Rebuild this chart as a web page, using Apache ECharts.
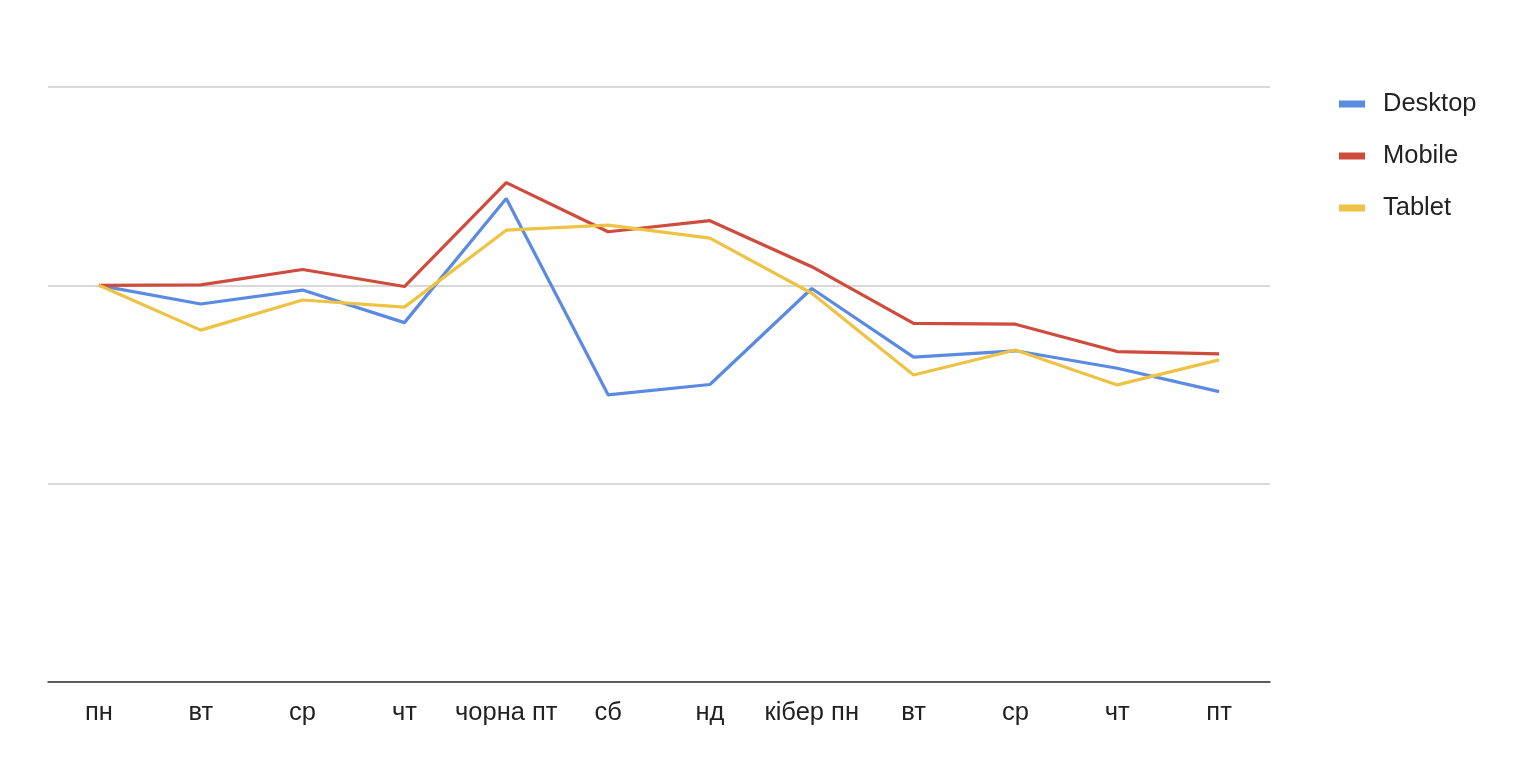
<!DOCTYPE html>
<html>
<head>
<meta charset="utf-8">
<script src="https://cdn.jsdelivr.net/npm/echarts@6/dist/echarts.min.js"></script>
<style>
html,body{margin:0;padding:0;background:#fff;}
#chart{width:1530px;height:766px;}
</style>
</head>
<body>
<div id="chart"></div>
<script>
const categories = ['пн','вт','ср','чт','чорна пт','сб','нд','кібер пн','вт','ср','чт','пт'];
const desktop = [100, 95.3, 98.8, 90.6, 121.9, 72.4, 75.0, 99.2, 81.9, 83.5, 79.1, 73.2];
const mobile  = [100, 100.1, 104.0, 99.7, 125.9, 113.5, 116.3, 104.7, 90.4, 90.2, 83.3, 82.7];
const tablet  = [100, 88.7, 96.3, 94.5, 113.9, 115.2, 111.9, 98.0, 77.4, 83.7, 74.9, 81.2];
const seriesNames = ['Desktop','Mobile','Tablet'];
const colors = ['#5b8ae2','#cf4b3d','#eec245'];

const chart = echarts.init(document.getElementById('chart'));
const font = '"Liberation Sans", Arial, sans-serif';
chart.setOption({
  animation: false,
  color: colors,
  textStyle: {fontFamily: font},
  grid: {left: 48, right: 260, top: 87, bottom: 84, containLabel: false},
  legend: {
    orient: 'vertical', left: 1334, top: 84,
    icon: 'rect', itemWidth: 26, itemHeight: 7, itemGap: 22,
    textStyle: {fontSize: 25.5, color: '#222', fontFamily: font, lineHeight: 30, padding: [0,0,0,13]},
    data: seriesNames
  },
  xAxis: {
    type: 'category', data: categories, boundaryGap: true,
    axisLine: {lineStyle: {color: '#333', width: 1.5}},
    axisTick: {show: false},
    axisLabel: {fontSize: 25.5, color: '#222', margin: 18, fontFamily: font, interval: 0}
  },
  yAxis: {
    type: 'value', min: 0, max: 150, interval: 50,
    axisLabel: {show: false}, axisLine: {show: false}, axisTick: {show: false},
    splitLine: {lineStyle: {color: '#cccccc', width: 1.5}}
  },
  series: [
    {name: seriesNames[0], type: 'line', data: desktop, symbol: 'none', lineStyle: {width: 3.2}},
    {name: seriesNames[1], type: 'line', data: mobile, symbol: 'none', lineStyle: {width: 3.2}},
    {name: seriesNames[2], type: 'line', data: tablet, symbol: 'none', lineStyle: {width: 3.2}}
  ]
});
</script>
</body>
</html>
